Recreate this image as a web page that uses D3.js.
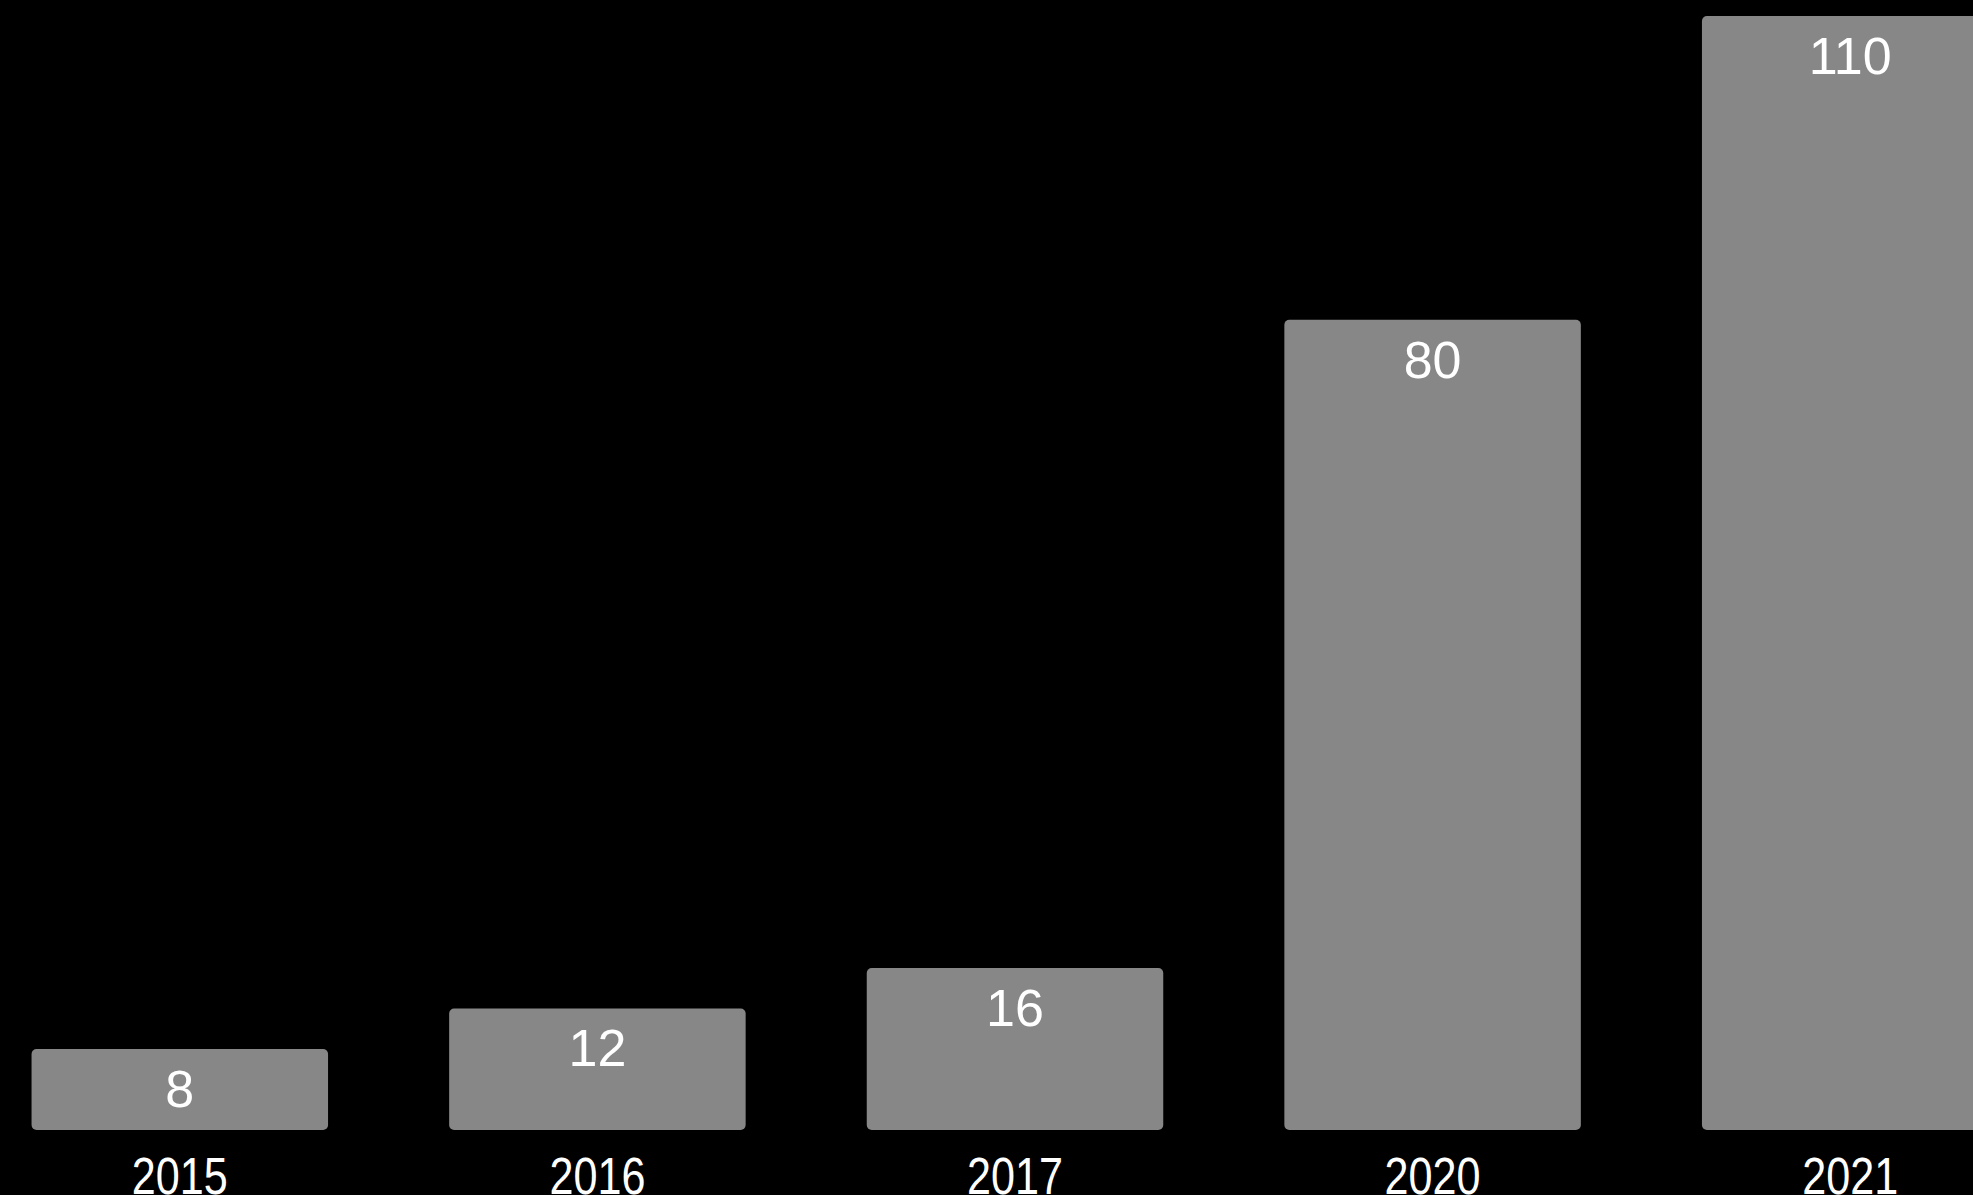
<!DOCTYPE html>
<html>
<head>
<meta charset="utf-8">
<script src="https://cdn.jsdelivr.net/npm/d3@7"></script>
<style>
  html, body { margin: 0; padding: 0; background: #000; overflow: hidden; }
  text { font-family: "Liberation Sans", Arial, Helvetica, sans-serif; fill: #fff; }
</style>
</head>
<body>
<svg id="canvas"></svg>
<script>
let years = ['2015', '2016', '2017', '2020', '2021']
let values = [8, 12, 16, 80, 110]

let width = 1973
let height = 1195
let baseY = 1130
let topY = 16

let canvas = d3.select('#canvas')
    .attr('width', width)
    .attr('height', height)

let xScale = d3.scaleBand()
    .domain(years)
    .range([-29, 2059])
    .paddingInner(0.29)
    .paddingOuter(0.145)

let yScale = d3.scaleLinear()
    .domain([0, 110])
    .range([baseY, topY])

let rows = years.map((y, i) => ({ year: y, value: values[i] }))

let block = canvas.selectAll('g.bar')
    .data(rows)
    .enter()
    .append('g')
    .attr('class', 'bar')

block.append('rect')
    .attr('x', (d) => xScale(d.year))
    .attr('y', (d) => yScale(d.value))
    .attr('width', xScale.bandwidth())
    .attr('height', (d) => baseY - yScale(d.value))
    .attr('rx', 5)
    .attr('fill', '#878787')

block.append('text')
    .text((d) => d.value)
    .attr('x', (d) => xScale(d.year) + xScale.bandwidth() / 2)
    .attr('y', (d) => yScale(d.value) + 58)
    .attr('text-anchor', 'middle')
    .style('font-size', '52px')

// year labels along the bottom (a bit narrower than the value labels)
block.append('text')
    .text((d) => d.year)
    .attr('transform', (d) => 'translate(' + (xScale(d.year) + xScale.bandwidth() / 2) + ',' + (baseY + 64) + ') scale(0.83,1)')
    .attr('text-anchor', 'middle')
    .style('font-size', '52px')
</script>
</body>
</html>
